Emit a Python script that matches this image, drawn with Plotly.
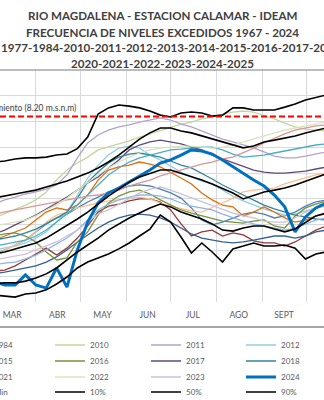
import plotly.graph_objects as go

# ---------------- data (day of year, water level m.s.n.m) ----------------
DAYS = [56, 63, 70, 77, 84, 91, 98, 105, 112, 119, 126, 133, 140, 147, 154, 161, 168,
        175, 182, 189, 196, 203, 210, 217, 224, 231, 238, 245, 252, 259, 266, 273, 280,
        287, 294]

MONTH_LABELS = ["MAR", "ABR", "MAY", "JUN", "JUL", "AGO", "SEPT", "OCT"]
MONTH_MID = [75, 105.5, 136, 166.5, 197, 228, 258.5, 289]
MONTH_START = [60, 91, 121, 152, 182, 213, 244, 274, 305]

NIVEL_DESBORDE = 8.20

Y1977 = [2.24,2.20,2.24,2.40,2.63,2.86,3.09,2.82,3.09,3.48,3.95,4.49,4.72,4.80,4.92,5.00,5.00,4.88,4.57,4.03,3.56,3.72,3.79,3.56,3.68,3.60,3.37,3.29,3.29,3.17,3.33,3.56,3.79,3.95,4.10]
Y1984 = [2.78,2.86,3.02,3.21,3.40,3.72,4.03,4.26,4.41,4.65,4.88,5.07,5.27,5.38,5.50,5.54,5.50,5.38,5.23,5.03,4.65,4.18,3.99,4.10,4.26,4.41,4.49,4.41,4.26,4.34,4.49,4.72,4.88,4.96,5.03]
Y2010 = [4.10,4.26,4.41,4.57,4.76,4.96,5.27,5.73,6.12,6.39,6.62,6.90,7.01,7.13,7.25,7.40,7.52,7.67,7.79,7.90,7.98,8.10,8.18,8.29,8.37,8.41,8.37,8.25,8.10,7.94,7.79,7.71,7.67,7.63,7.59]
Y2011 = [4.65,4.80,4.96,5.07,5.19,5.27,5.38,5.54,5.93,6.59,7.17,7.48,7.67,7.79,7.87,7.98,8.06,8.14,8.06,7.90,7.79,7.63,7.48,7.32,7.21,7.09,6.98,6.82,6.66,6.59,6.59,6.66,6.74,6.82,6.90]
Y2012 = [2.94,3.02,3.09,3.17,3.29,3.48,3.72,4.10,4.49,5.15,5.81,6.31,6.70,6.97,7.05,6.97,6.70,6.51,6.28,6.04,5.85,5.69,5.58,5.34,5.11,4.92,4.76,4.61,4.49,4.37,4.41,4.53,4.65,4.72,4.80]
Y2013 = [3.33,3.40,3.56,3.72,3.87,4.18,4.49,4.65,4.57,4.76,5.15,5.73,6.12,6.24,6.31,6.43,6.35,6.24,6.04,5.81,5.58,5.23,4.96,4.76,4.69,4.34,4.49,4.69,4.49,4.26,4.10,4.18,4.34,4.41,4.49]
Y2014 = [2.05,2.09,2.16,2.24,2.32,2.40,2.55,2.75,3.02,3.33,3.60,3.87,4.10,4.26,4.37,4.41,4.37,4.26,4.10,3.87,3.64,3.48,3.40,3.33,3.29,3.33,3.40,3.48,3.56,3.56,3.48,3.56,3.72,3.79,3.87]
Y2015 = [2.71,2.82,3.02,3.21,3.40,3.72,4.10,4.37,4.49,4.65,4.76,4.84,4.92,4.96,5.03,5.07,5.00,4.84,4.72,4.61,4.53,4.49,4.65,4.84,5.03,5.27,5.34,5.38,5.42,5.58,5.69,5.81,5.93,6.00,6.08]
Y2016 = [3.48,3.56,3.64,3.68,3.56,3.33,2.94,2.63,2.71,3.33,3.72,4.37,4.84,5.11,5.27,5.34,5.19,4.96,4.76,4.57,4.45,4.34,4.22,4.14,4.10,4.06,4.14,4.18,3.95,3.87,4.34,4.65,4.80,4.92,5.03]
Y2017 = [3.48,3.64,3.79,3.99,4.18,4.37,4.61,4.84,5.07,5.34,5.62,5.85,6.20,6.51,6.90,7.09,7.21,7.28,7.21,7.13,7.01,6.90,6.70,6.55,6.39,6.24,6.12,6.04,6.00,6.00,6.04,6.08,6.16,6.24,6.31]
Y2018 = [3.40,3.40,3.48,3.56,3.68,3.83,4.03,4.26,4.49,5.03,5.65,6.04,6.39,6.62,6.74,6.78,6.70,6.62,6.47,6.31,6.20,6.00,5.77,5.54,5.34,5.15,4.96,4.76,4.61,4.49,4.37,4.30,4.22,4.18,4.14]
Y2019 = [2.40,2.44,2.51,2.55,2.67,2.82,3.02,3.25,3.48,3.79,4.18,4.57,4.80,4.96,5.07,5.15,5.15,5.11,5.00,4.84,4.72,4.65,4.57,4.41,4.26,4.14,4.03,3.95,3.87,3.79,3.87,4.03,4.18,4.26,4.34]
Y2020 = [3.09,3.17,3.25,3.33,3.40,3.56,3.79,4.10,4.41,4.76,5.15,5.54,5.93,6.20,6.43,6.59,6.70,6.82,6.90,6.93,6.97,7.01,7.01,6.90,6.74,6.62,6.66,6.70,6.78,6.86,6.93,7.01,7.09,7.13,7.17]
Y2021 = [4.34,4.41,4.49,4.57,4.65,4.72,4.80,4.88,4.96,5.03,5.11,5.15,5.23,5.34,5.50,5.62,5.73,5.89,6.00,6.12,6.24,6.35,6.43,6.55,6.62,6.78,6.97,7.17,7.36,7.52,7.67,7.75,7.83,7.87,7.90]
Y2022 = [3.87,3.95,4.03,4.10,4.18,4.34,4.57,4.76,5.03,5.34,5.65,5.93,6.20,6.43,6.62,6.78,6.90,6.97,7.01,7.05,7.05,7.01,6.97,7.01,7.09,7.21,7.32,7.44,7.56,7.67,7.75,7.83,7.90,7.98,8.06]
Y2023 = [2.55,2.63,2.71,2.78,2.86,3.02,3.17,3.33,3.56,3.79,4.10,4.41,4.57,4.80,5.03,5.23,5.38,5.46,5.34,5.19,5.03,4.88,4.72,4.57,4.45,4.34,4.26,4.14,4.10,4.10,4.26,4.49,4.65,4.76,4.84]
Y2024 = [1.93,1.78,1.66,1.66,2.05,1.66,1.54,2.32,1.58,3.02,4.10,4.84,5.23,5.42,5.65,5.89,6.12,6.39,6.51,6.70,6.90,6.86,6.74,6.51,6.24,5.97,5.73,5.50,5.15,4.69,3.72,4.30,4.65,4.84,5.03]
Y2025 = [2.10,2.05] + [None] * 33

MAX = [6.43,6.43,6.47,6.55,6.59,6.59,6.62,6.70,6.74,6.95,7.40,8.29,8.53,8.64,8.60,8.53,8.41,8.25,8.18,8.33,8.37,8.33,8.21,8.25,8.53,8.53,8.45,8.45,8.45,8.56,8.68,8.84,8.95,9.03,9.11]
MIN = [1.31,1.27,1.23,1.19,1.31,1.35,1.47,1.70,1.97,2.32,2.55,2.71,2.86,3.06,3.29,3.56,3.83,4.37,4.10,3.52,2.90,3.29,2.94,2.55,3.06,3.17,3.29,3.17,3.17,3.21,3.09,2.67,2.86,2.94,3.02]
P10 = [1.66,1.70,1.74,1.74,1.81,1.93,2.09,2.32,2.63,2.94,3.21,3.48,3.79,4.03,4.26,4.45,4.65,4.80,4.69,4.49,4.34,4.22,4.03,3.79,3.75,3.87,3.95,3.95,3.83,3.72,3.83,4.10,4.34,4.45,4.57]
P50 = [2.78,2.86,2.94,3.06,3.17,3.29,3.48,3.72,3.95,4.22,4.49,4.80,5.11,5.38,5.65,5.85,6.00,6.12,6.12,6.00,5.85,5.73,5.58,5.42,5.23,5.00,5.15,5.27,5.34,5.42,5.54,5.69,5.85,6.00,6.12]
P90 = [4.96,5.03,5.11,5.19,5.27,5.34,5.46,5.58,5.69,5.85,6.00,6.20,6.43,6.70,7.01,7.32,7.56,7.75,7.75,7.63,7.56,7.44,7.32,7.21,7.09,6.98,7.05,7.21,7.28,7.36,7.44,7.56,7.67,7.75,7.83]

SERIES_NAMES = ["1977", "1984", "2010", "2011", "2012", "2013", "2014", "2015", "2016",
                "2017", "2018", "2019", "2020", "2021", "2022", "2023", "2024", "2025",
                "Max", "Min", "10%", "50%", "90%"]
SERIES_VALUES = [Y1977, Y1984, Y2010, Y2011, Y2012, Y2013, Y2014, Y2015, Y2016, Y2017,
                 Y2018, Y2019, Y2020, Y2021, Y2022, Y2023, Y2024, Y2025,
                 MAX, MIN, P10, P50, P90]
SERIES_COLORS = ["#953735", "#4f81bd", "#c3d69b", "#b3a2c7", "#93cddd", "#e46c0a",
                 "#376092", "#fac090", "#77933c", "#604a7b", "#31859c", "#8eb4e3",
                 "#4bacc6", "#d99694", "#d7e4bd", "#ccc1da", "#0070c0", "#c0504d",
                 "#000000", "#000000", "#000000", "#000000", "#000000"]
SERIES_WIDTHS = [1.3] * 16 + [3.0, 1.3] + [1.6] * 5

# ---------------- figure geometry ----------------
W, H = 324, 400
ML, MR, MT, MB = 0, 0, 70, 98
PW, PH = W - ML - MR, H - MT - MB


def px_x(px):
    return (px - ML) / PW


def px_y(py):
    return (H - MB - py) / PH


fig = go.Figure()

# legend grid (6 columns x 4 rows, Excel order); only middle columns visible
LEG_COL_TEXT_X = [-101, -6, 90, 186, 281, 376]
LEG_ROW_Y = [345, 361, 377, 392]

layout_legends = {}
for i, (name, vals, col, w) in enumerate(zip(SERIES_NAMES, SERIES_VALUES,
                                              SERIES_COLORS, SERIES_WIDTHS)):
    lid = "legend" if i == 0 else f"legend{i + 1}"
    fig.add_trace(go.Scatter(
        x=DAYS, y=vals, mode="lines", name=name,
        line=dict(color=col, width=w),
        legend=lid, hoverinfo="skip",
    ))
    r, c = divmod(i, 6)
    layout_legends[lid] = dict(
        x=px_x(LEG_COL_TEXT_X[c] - 40), xanchor="left",
        y=px_y(LEG_ROW_Y[r]), yanchor="middle",
        bgcolor="rgba(0,0,0,0)", borderwidth=0,
        font=dict(family="Lato", size=8, color="#595959"),
    )

# flood level line
fig.add_shape(type="line", xref="paper", x0=0, x1=1, yref="y",
              y0=NIVEL_DESBORDE, y1=NIVEL_DESBORDE,
              line=dict(color="#ff0000", width=2, dash="6px,3px"))
fig.add_annotation(text="Nivel de desbordamiento (8.20 m.s.n.m)",
                   xref="paper", x=px_x(78), xanchor="right",
                   yref="y", y=NIVEL_DESBORDE, yanchor="bottom", yshift=1,
                   showarrow=False,
                   font=dict(family="Lato", size=8.5, color="#404040"))

# plot-area top border and chart/legend separator
fig.add_shape(type="line", xref="paper", x0=0, x1=1, yref="paper", y0=1, y1=1,
              line=dict(color="#a6a6a6", width=1.5))
fig.add_shape(type="line", xref="paper", x0=-0.1, x1=1.1, yref="paper",
              y0=px_y(327), y1=px_y(327), line=dict(color="#a6a6a6", width=2))

# titles
TITLE_FONT = dict(family="Lato", size=11.6, color="#404040", weight="bold")
fig.add_annotation(text="RIO MAGDALENA - ESTACION CALAMAR - IDEAM",
                   xref="paper", x=px_x(162), yref="paper", y=px_y(15),
                   xanchor="center", yanchor="middle", showarrow=False, font=TITLE_FONT)
fig.add_annotation(text="FRECUENCIA DE NIVELES EXCEDIDOS 1967 - 2024",
                   xref="paper", x=px_x(162), yref="paper", y=px_y(32),
                   xanchor="center", yanchor="middle", showarrow=False, font=TITLE_FONT)
fig.add_annotation(text="1977-1984-2010-2011-2012-2013-2014-2015-2016-2017-2018-2019-",
                   xref="paper", x=px_x(-1), yref="paper", y=px_y(48),
                   xanchor="left", yanchor="middle", showarrow=False, font=TITLE_FONT)
fig.add_annotation(text="2020-2021-2022-2023-2024-2025",
                   xref="paper", x=px_x(162), yref="paper", y=px_y(63),
                   xanchor="center", yanchor="middle", showarrow=False, font=TITLE_FONT)

fig.update_layout(
    width=W, height=H,
    margin=dict(l=ML, r=MR, t=MT, b=MB, autoexpand=False),
    paper_bgcolor="white", plot_bgcolor="white",
    showlegend=True,
    xaxis=dict(
        range=[66.8, 285.5], showgrid=False, zeroline=False, showline=False,
        tickmode="array", tickvals=MONTH_MID, ticktext=MONTH_LABELS,
        ticks="", tickfont=dict(family="Lato", size=8.5, color="#595959"),
        ticklabelstandoff=6,
        minor=dict(tickmode="array", tickvals=MONTH_START, showgrid=True,
                   gridcolor="#d9d9d9", gridwidth=1, ticks=""),
    ),
    yaxis=dict(
        range=[1, 10], dtick=1, showgrid=True, gridcolor="#d9d9d9", gridwidth=1,
        zeroline=False, showticklabels=False, showline=False,
    ),
    **layout_legends,
)

fig.write_html("out.html")
